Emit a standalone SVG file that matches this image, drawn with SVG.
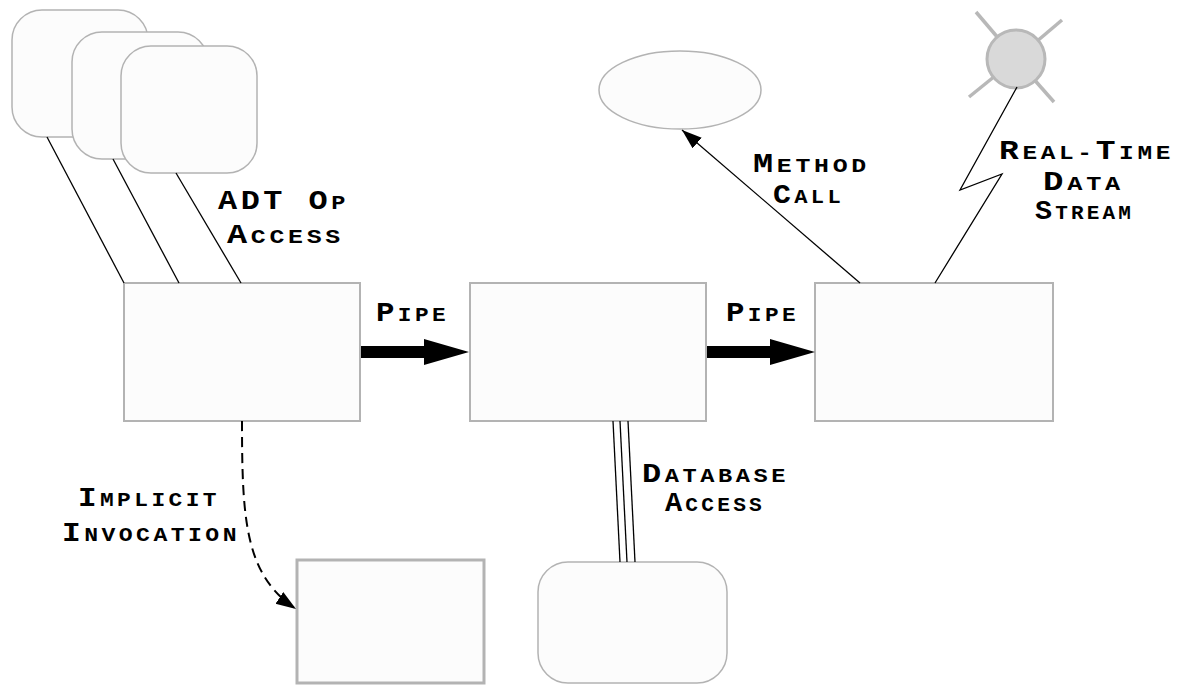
<svg xmlns="http://www.w3.org/2000/svg" width="1177" height="691" viewBox="0 0 1177 691">
  <defs>
    <style>
      .box { fill: #fcfcfc; stroke: #b3b3b3; stroke-width: 2; }
      .rbox { fill: #fcfcfc; stroke: #b3b3b3; stroke-width: 1.5; }
      .thin { fill: none; stroke: #000; stroke-width: 1.3; }
      .lbl { font-family: "Liberation Mono", "Courier New", monospace; font-weight: bold; font-size: 27px; fill: #000; letter-spacing: 3px; }
      .sc { font-size: 20px; text-transform: uppercase; }
      .ray { stroke: #b8b8b8; stroke-width: 3.5; stroke-linecap: butt; }
    </style>
    <marker id="ah" markerWidth="22" markerHeight="16" refX="20" refY="7" orient="auto" markerUnits="userSpaceOnUse">
      <path d="M0,0 L20,7 L0,14 Z" fill="#000"/>
    </marker>
  </defs>
  <rect width="1177" height="691" fill="#fff"/>

  <g id="adt-stack">
    <rect id="adt1" class="rbox" x="12" y="10" width="136" height="127" rx="30" ry="30"/>
    <rect id="adt2" class="rbox" x="72" y="32" width="136" height="127" rx="30" ry="30"/>
    <rect id="adt3" class="rbox" x="121" y="46" width="136" height="127" rx="30" ry="30"/>
  </g>

  <g id="filter1"><rect class="box" x="124" y="283" width="236" height="138"/></g>
  <g id="filter2"><rect class="box" x="470" y="283" width="236" height="138"/></g>
  <g id="filter3"><rect class="box" x="815" y="283" width="238" height="138"/></g>
  <g id="object"><ellipse class="rbox" cx="680" cy="90" rx="81" ry="39"/></g>
  <g id="sensor">
    <line class="ray" x1="976" y1="12" x2="1016" y2="59"/>
    <line class="ray" x1="1062" y1="20" x2="1016" y2="59"/>
    <line class="ray" x1="969" y1="97" x2="1016" y2="59"/>
    <line class="ray" x1="1054" y1="102" x2="1016" y2="59"/>
    <circle cx="1016" cy="59" r="29" fill="#d9d9d9" stroke="#b8b8b8" stroke-width="3"/>
  </g>
  <g id="eventbox"><rect x="297" y="560" width="187" height="123" fill="#fcfcfc" stroke="#b3b3b3" stroke-width="3"/></g>
  <g id="database"><rect class="rbox" x="538" y="562" width="189" height="121" rx="30" ry="30"/></g>

  <g id="connectors">
    <line class="thin" x1="47" y1="137" x2="124" y2="283"/>
    <line class="thin" x1="113" y1="159" x2="179" y2="283"/>
    <line class="thin" x1="176" y1="173" x2="241" y2="283"/>
    <polygon points="361,346 424,346 424,339 469,352 424,365 424,358 361,358" fill="#000"/>
    <polygon points="707,346 770,346 770,339 815,352 770,365 770,358 707,358" fill="#000"/>
    <line class="thin" x1="860" y1="283" x2="682" y2="130" marker-end="url(#ah)"/>
    <polyline class="thin" points="935,283 1002,174 960,190 1017,87"/>
    <line class="thin" x1="613" y1="421" x2="620" y2="562"/>
    <line class="thin" x1="620" y1="421" x2="627" y2="562"/>
    <line class="thin" x1="628" y1="421" x2="635" y2="562"/>
    <path d="M242,421 C242,520 245,575 296,609" fill="none" stroke="#000" stroke-width="2" stroke-dasharray="10,6" marker-end="url(#ah)"/>
  </g>

  <g id="labels">
    <text class="lbl" x="218" y="209" textLength="131" lengthAdjust="spacingAndGlyphs">ADT O<tspan class="sc">p</tspan></text>
    <text class="lbl" x="227" y="243" textLength="117" lengthAdjust="spacingAndGlyphs">A<tspan class="sc">ccess</tspan></text>
    <text class="lbl" x="376" y="321" textLength="73" lengthAdjust="spacingAndGlyphs">P<tspan class="sc">ipe</tspan></text>
    <text class="lbl" x="726" y="321" textLength="73" lengthAdjust="spacingAndGlyphs">P<tspan class="sc">ipe</tspan></text>
    <text class="lbl" x="753" y="172" textLength="117" lengthAdjust="spacingAndGlyphs">M<tspan class="sc">ethod</tspan></text>
    <text class="lbl" x="773" y="203" textLength="71" lengthAdjust="spacingAndGlyphs">C<tspan class="sc">all</tspan></text>
    <text class="lbl" x="999" y="159" textLength="175" lengthAdjust="spacingAndGlyphs">R<tspan class="sc">eal-</tspan>T<tspan class="sc">ime</tspan></text>
    <text class="lbl" x="1043" y="190" textLength="81" lengthAdjust="spacingAndGlyphs">D<tspan class="sc">ata</tspan></text>
    <text class="lbl" x="1035" y="219" textLength="99" lengthAdjust="spacingAndGlyphs">S<tspan class="sc">tream</tspan></text>
    <text class="lbl" x="78" y="506" textLength="142" lengthAdjust="spacingAndGlyphs">I<tspan class="sc">mplicit</tspan></text>
    <text class="lbl" x="62" y="541" textLength="178" lengthAdjust="spacingAndGlyphs">I<tspan class="sc">nvocation</tspan></text>
    <text class="lbl" x="642" y="482" textLength="147" lengthAdjust="spacingAndGlyphs">D<tspan class="sc">atabase</tspan></text>
    <text class="lbl" x="665" y="511" textLength="100" lengthAdjust="spacingAndGlyphs">A<tspan class="sc">ccess</tspan></text>
  </g>
</svg>
